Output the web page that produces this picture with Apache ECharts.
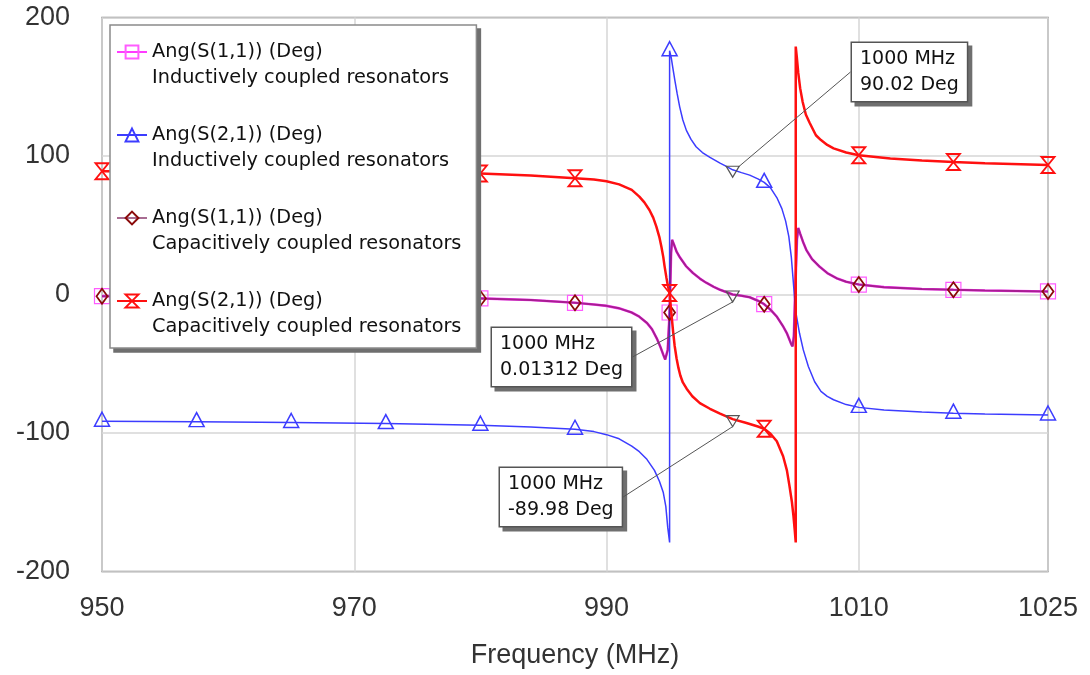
<!DOCTYPE html>
<html>
<head>
<meta charset="utf-8">
<script src="https://cdn.jsdelivr.net/npm/echarts@6/dist/echarts.min.js"></script>
<style>
  html, body { margin: 0; padding: 0; background: #fff; }
  #chart { width: 1090px; height: 675px; }
</style>
</head>
<body>
<div id="chart"></div>
<script>
// Frequencies (MHz) where the trace markers sit
const markerFreqs = [950, 957.5, 965, 972.5, 980, 987.5, 995, 1002.5, 1010, 1017.5, 1025];
// Labelled frequency ticks
const xTickValues = [950, 970, 990, 1010, 1025];

// Ang(S(1,1)) in degrees: identical for both coupling types
const s11Phase = [
  [950, -1.2], [957.5, -1.4], [965, -1.7], [972.5, -2.1], [980, -2.8], [984, -4], [987.5, -6],
  [989, -7.2], [990, -8.2], [991, -10], [992, -13], [992.6, -16], [993.2, -20.5], [993.6, -25],
  [994, -32], [994.3, -38.5], [994.5, -43.5], [994.65, -47], [994.75, -48], [994.85, -40],
  [995, -13], [995.12, 30], [995.2, 39.5], [995.35, 36], [995.55, 31], [995.8, 27], [996.3, 20.5],
  [996.85, 15.5], [997.4, 11.5], [997.9, 8.5], [998.5, 5.5], [999, 3.4], [1000, 0.01312],
  [1000.7, -0.9], [1001.35, -2], [1002, -4.5], [1002.5, -7], [1003, -11], [1003.5, -16],
  [1004, -23], [1004.3, -28], [1004.5, -32.5], [1004.65, -36], [1004.75, -37.5], [1004.85, -30],
  [1004.95, 0], [1005.1, 40], [1005.2, 48], [1005.35, 44], [1005.6, 37.5], [1005.85, 32],
  [1006.3, 25.5], [1006.9, 20], [1007.5, 15.5], [1008.3, 11.5], [1009, 9.2], [1010, 7.2],
  [1012, 5.3], [1015, 4], [1017.5, 3.4], [1020, 2.9], [1025, 2.2]
];

// Ang(S(2,1)) in degrees, inductively coupled resonators
const s21Inductive = [
  [950, -91.5], [957.5, -91.8], [965, -92.4], [972.5, -93.2], [980, -94.4], [984, -95.6],
  [987.5, -97.3], [989, -99], [990, -101.2], [991, -104.2], [992, -109.5], [992.6, -113.5],
  [993.2, -119], [993.8, -127], [994.2, -135], [994.5, -143], [994.7, -153], [994.85, -168],
  [995, -179], [995, 176], [995.13, 171], [995.25, 164], [995.41, 155], [995.6, 145],
  [995.8, 135.5], [996.05, 126], [996.33, 118.5], [996.7, 112], [997.1, 106.7], [997.6, 102.5],
  [998.2, 99], [999, 94.8], [999.5, 92.5], [1000, 90.02], [1000.7, 88], [1001.35, 86.2],
  [1002, 83.5], [1002.5, 81], [1003, 77], [1003.5, 70], [1003.9, 62], [1004.2, 53],
  [1004.45, 42], [1004.65, 27], [1004.8, 10], [1004.92, -4], [1005.05, -15], [1005.3, -28],
  [1005.6, -40], [1006, -52], [1006.5, -63], [1007, -70], [1007.5, -73.5], [1008, -76],
  [1009, -79.5], [1010, -81.5], [1012, -83.4], [1015, -84.9], [1017.5, -85.7], [1020, -86.3],
  [1025, -87]
];

// Ang(S(2,1)) in degrees, capacitively coupled resonators
const s21Capacitive = [
  [950, 89], [957.5, 88.8], [965, 88.5], [972.5, 88.1], [980, 87.4], [984, 86], [987.5, 84],
  [989, 83], [990, 81.8], [991, 79.5], [992, 75.5], [992.6, 70.7], [993, 66.5], [993.4, 61],
  [993.7, 55.5], [993.95, 49], [994.2, 41], [994.35, 34.5], [994.5, 27], [994.6, 20.5],
  [994.75, 12], [994.87, 6], [995, 1], [995.14, -13.5], [995.27, -26], [995.4, -37],
  [995.55, -46], [995.7, -53], [995.85, -58.5], [996.05, -63.5], [996.35, -68], [996.8, -73.5],
  [997.4, -78.4], [998.2, -82.5], [999, -86], [1000, -89.98], [1001.1, -92.8], [1002, -95.3],
  [1002.5, -97], [1003, -100.5], [1003.5, -106], [1004, -116.8], [1004.3, -127], [1004.5, -138],
  [1004.7, -150], [1004.82, -160], [1004.92, -170], [1005, -179], [1005, 179], [1005.08, 172],
  [1005.2, 160], [1005.35, 149], [1005.55, 139], [1005.8, 130], [1006.1, 124], [1006.6, 115],
  [1007, 111.5], [1007.5, 108], [1008, 105.5], [1009, 102.5], [1010, 100.5], [1012.5, 98.2],
  [1015, 96.7], [1017.5, 95.6], [1020, 94.7], [1025, 93.5]
];

// Marker readouts at 1000 MHz: S(2,1) inductive, S(1,1), S(2,1) capacitive
const readouts = [[1000, 90.02], [1000, 0.01312], [1000, -89.98]];

const seriesNames = [
  'Ang(S(1,1)) (Deg)\nInductively coupled resonators',
  'Ang(S(2,1)) (Deg)\nInductively coupled resonators',
  'Ang(S(1,1)) (Deg)\nCapacitively coupled resonators',
  'Ang(S(2,1)) (Deg)\nCapacitively coupled resonators'
];

// Put a symbol only on the marker frequencies (last point if a frequency repeats at a jump)
function withMarkers(points) {
  return points.map(function (p, i) {
    const next = points[i + 1];
    const isMark = markerFreqs.indexOf(p[0]) >= 0 && !(next && next[0] === p[0]);
    return isMark ? { value: p } : { value: p, symbol: 'none' };
  });
}

function trace(name, points, color, width, symbol, size, offset, markColor, markWidth, z, opacity) {
  return {
    name: name,
    type: 'line',
    data: withMarkers(points),
    symbol: symbol,
    symbolSize: size,
    symbolOffset: offset,
    showSymbol: true,
    showAllSymbol: true,
    smooth: false,
    clip: true,
    z: z,
    lineStyle: { color: color, width: width, opacity: opacity == null ? 1 : opacity },
    itemStyle: { color: 'rgba(0,0,0,0)', borderColor: markColor, borderWidth: markWidth, opacity: 1 },
    emphasis: { disabled: true },
    silent: true
  };
}

const chart = echarts.init(document.getElementById('chart'), null, { renderer: 'canvas' });
const axisFont = { fontFamily: 'Liberation Sans', fontSize: 27, color: '#333' };
const boxPos = [{ x: 852, y: 43 }, { x: 492, y: 328 }, { x: 500, y: 468 }];
const shadowGray = '#6f6f6f';
const clear = 'rgba(0,0,0,0)';
const legendFontSize = 19.3;

// Legend box (the drop shadow is a second, offset copy drawn underneath)
function legendBox(dx, shadow) {
  const textColor = shadow ? clear : '#111';
  return {
    data: seriesNames,
    orient: 'vertical',
    left: 110 + dx, top: 25 + dx,
    z: shadow ? 19 : 20,
    padding: [-12, 15, 8, 6],
    itemGap: 5,
    itemWidth: 30, itemHeight: 16,
    selectedMode: false,
    backgroundColor: shadow ? shadowGray : '#fff',
    borderColor: shadow ? shadowGray : '#8a8a8a', borderWidth: 1.5,
    itemStyle: shadow ? { opacity: 0 } : {},
    lineStyle: shadow ? { opacity: 0 } : {},
    formatter: function (name) {
      const parts = name.split('\n');
      return '{e| }\n{a|' + parts[0] + '}\n{b|' + parts[1] + '}';
    },
    textStyle: {
      fontFamily: 'DejaVu Sans', fontSize: legendFontSize, lineHeight: 26, color: textColor,
      rich: {
        e: { fontSize: legendFontSize, lineHeight: 26, color: textColor },
        a: { fontFamily: 'DejaVu Sans', fontSize: legendFontSize, lineHeight: 26, color: textColor },
        b: { fontFamily: 'DejaVu Sans', fontSize: legendFontSize, lineHeight: 26, color: textColor }
      }
    }
  };
}

// Readout markers with their boxed value labels (shadow copy drawn underneath)
function readoutSeries(shadow) {
  const d = shadow ? 4 : 0;
  return {
    type: 'scatter',
    data: readouts,
    symbol: 'path://M0,0L12,0L6,10Z',
    symbolSize: [13, 11],
    symbolOffset: [0, 2],
    itemStyle: {
      color: clear, borderColor: shadow ? clear : '#555',
      borderWidth: shadow ? 0 : 1.2, opacity: 1
    },
    z: shadow ? 9 : 10,
    silent: true,
    label: {
      show: true,
      formatter: function (p) { return p.value[0] + ' MHz\n' + p.value[1] + ' Deg'; },
      fontFamily: 'DejaVu Sans', fontSize: 19, lineHeight: 26,
      color: shadow ? clear : '#111',
      backgroundColor: shadow ? shadowGray : '#fff',
      borderColor: shadow ? shadowGray : '#555', borderWidth: 1.5,
      padding: [3, 8, 3, 8]
    },
    labelLayout: function (p) {
      const b = boxPos[p.dataIndex];
      return { x: b.x + d, y: b.y + d, align: 'left', verticalAlign: 'top' };
    },
    labelLine: { show: !shadow, length2: 0, lineStyle: { color: '#555', width: 1 } }
  };
}

chart.setOption({
  animation: false,
  backgroundColor: '#ffffff',
  grid: {
    left: 102, right: 42, top: 17.5, bottom: 103.5,
    show: true, borderColor: '#858585', borderWidth: 1.5, backgroundColor: '#fff'
  },
  xAxis: {
    type: 'value', min: 950, max: 1025,
    name: 'Frequency (MHz)', nameLocation: 'middle', nameGap: 71,
    nameTextStyle: axisFont,
    axisLine: { show: false },
    axisTick: { show: false, customValues: xTickValues },
    axisLabel: Object.assign({
      customValues: xTickValues, margin: 24,
      formatter: function (v) { return String(v); }
    }, axisFont),
    splitLine: { show: true, lineStyle: { color: '#d6d6d6', width: 1.5 } }
  },
  yAxis: {
    type: 'value', min: -200, max: 200, interval: 100,
    axisLine: { show: false },
    axisTick: { show: false },
    axisLabel: Object.assign({ margin: 32, formatter: function (v) { return String(v); } }, axisFont),
    splitLine: { show: true, lineStyle: { color: '#d6d6d6', width: 1.5 } }
  },
  legend: [legendBox(4, true), legendBox(0, false)],
  series: [
    trace(seriesNames[0], s11Phase, '#ff3cff', 2.6, 'rect', [15, 15], [0, 0], '#ff5cff', 1.2, 2),
    trace(seriesNames[1], s21Inductive, '#3c3cff', 1.5, 'triangle', [15, 14], [0, -2], '#3c3cff', 1.5, 3),
    trace(seriesNames[2], s11Phase, '#6e0a4a', 2, 'diamond', [11, 15], [0, 0], '#8a0a0a', 1.8, 4, 0.6),
    trace(seriesNames[3], s21Capacitive, '#ff1010', 2.5, 'path://M0,0L10,0L0,14L10,14Z', [13, 16], [0, 0], '#ff1010', 1.8, 5),
    readoutSeries(true),
    readoutSeries(false)
  ]
});
</script>
</body>
</html>
